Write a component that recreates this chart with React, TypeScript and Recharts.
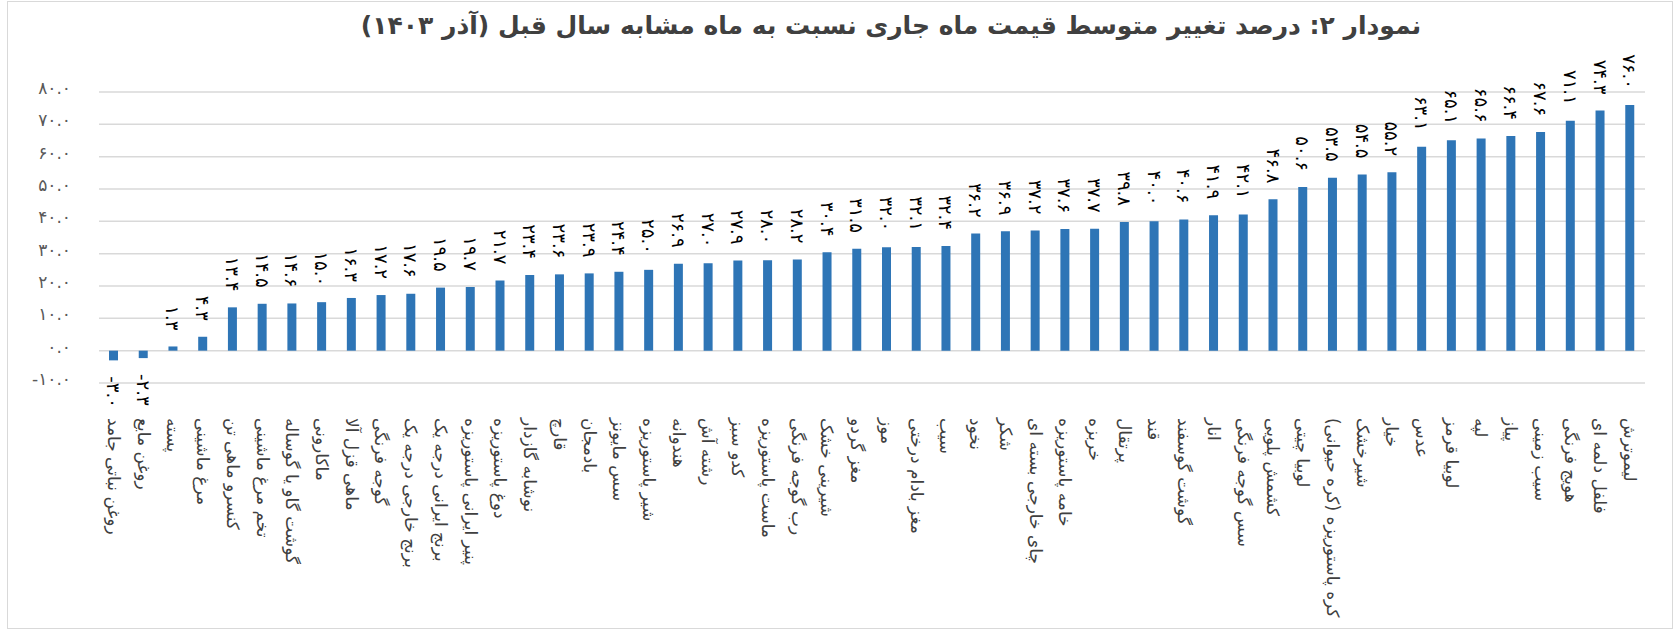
import React from 'react';
import { BarChart, Bar, XAxis, YAxis, CartesianGrid, LabelList } from 'recharts';

const CATEGORIES = [
  'روغن نباتی جامد', 'روغن مایع', 'پسته', 'مرغ ماشینی', 'کنسرو ماهی تن', 'تخم مرغ ماشینی',
  'گوشت گاو یا گوساله', 'ماکارونی', 'ماهی قزل آلا', 'گوجه فرنگی', 'برنج خارجی درجه یک',
  'برنج ایرانی درجه یک', 'پنیر ایرانی پاستوریزه', 'دوغ پاستوریزه', 'نوشابه گازدار', 'قارچ',
  'بادمجان', 'سس مایونز', 'شیر پاستوریزه', 'هندوانه', 'رشته آش', 'کدو سبز', 'ماست پاستوریزه',
  'رب گوجه فرنگی', 'شیرینی خشک', 'مغز گردو', 'موز', 'مغز بادام درختی', 'سیب', 'نخود', 'شکر',
  'چای خارجی بسته ای', 'خامه پاستوریزه', 'خربزه', 'پرتقال', 'قند', 'گوشت گوسفند', 'انار',
  'سس گوجه فرنگی', 'کشمش پلویی', 'لوبیا چیتی', 'کره پاستوریزه (کره حیوانی)', 'شیرخشک', 'خیار',
  'عدس', 'لوبیا قرمز', 'لپه', 'پیاز', 'سیب زمینی', 'هویج فرنگی', 'فلفل دلمه ای', 'لیموترش',
];

const CHANGE = [
  -3.0, -2.3, 1.3, 4.3, 13.4, 14.5, 14.6, 15.0, 16.3, 17.2, 17.6, 19.5, 19.7, 21.7, 23.4, 23.6,
  23.9, 24.4, 25.0, 26.9, 27.0, 27.9, 28.0, 28.2, 30.4, 31.5, 32.0, 32.1, 32.4, 36.2, 36.9, 37.2,
  37.6, 37.7, 39.8, 40.0, 40.6, 41.9, 42.1, 46.8, 50.6, 53.5, 54.5, 55.2, 63.1, 65.1, 65.6, 66.4,
  67.6, 71.1, 74.3, 76.0,
];

const Y_TICKS = [-10, 0, 10, 20, 30, 40, 50, 60, 70, 80];

const TITLE = 'نمودار ۲: درصد تغییر متوسط قیمت ماه جاری نسبت به ماه مشابه سال قبل (آذر ۱۴۰۳)';

const FONT = '"DejaVu Sans", sans-serif';

// western digits -> persian digits
const fa = (s: string) => s.replace(/[0-9]/g, (d) => '۰۱۲۳۴۵۶۷۸۹'[Number(d)]);

const data = CATEGORIES.map((name, i) => ({ name, value: CHANGE[i] }));

const YTick = (props: any) => {
  const { y, payload } = props;
  return (
    <text x={71} y={y - 4} textAnchor="end" dominantBaseline="central" fill="#595959" fontSize={17} fontFamily={FONT}>
      {fa(payload.value.toFixed(1))}
    </text>
  );
};

const XTick = (props: any) => {
  const { x, payload } = props;
  return (
    <text
      x={x}
      y={418}
      transform={`rotate(90, ${x}, 418)`}
      textAnchor="start"
      dominantBaseline="central"
      fill="#404040"
      fontSize={17}
      fontFamily={FONT}
    >
      {payload.value}
    </text>
  );
};

const ValueLabel = (props: any) => {
  const { x, y, width, height, value } = props;
  const cx = x + width / 2;
  const top = Math.min(y, y + height);
  const bottom = Math.max(y, y + height);
  const neg = value < 0;
  const ly = neg ? bottom + 16 : top - 16;
  return (
    <text
      x={cx}
      y={ly}
      transform={`rotate(90, ${cx}, ${ly})`}
      textAnchor={neg ? 'start' : 'end'}
      dominantBaseline="central"
      direction="ltr"
      fill="#000"
      fontSize={18}
      fontFamily={FONT}
    >
      {fa(value.toFixed(1))}
    </text>
  );
};

export default function App() {
  return (
    <div style={{ position: 'absolute', left: 0, top: 0, width: 1677, height: 631, background: '#fff' }}>
      <div
        style={{
          position: 'absolute',
          left: 7,
          top: 1,
          width: 1664,
          height: 626,
          border: '1px solid #d9d9d9',
        }}
      />
      <div
        style={{
          position: 'absolute',
          left: 0,
          top: 11,
          width: 1782,
          textAlign: 'center',
          direction: 'rtl',
          fontFamily: FONT,
          fontWeight: 'bold',
          fontSize: 25,
          color: '#404040',
        }}
      >
        {TITLE}
      </div>
      <div style={{ position: 'absolute', left: 0, top: 0 }}>
        <BarChart width={1677} height={631} data={data} margin={{ top: 92, right: 32, left: 0, bottom: 18 }}>
          <CartesianGrid vertical={false} stroke="#d9d9d9" strokeWidth={1.5} />
          <XAxis dataKey="name" height={230} axisLine={false} tickLine={false} interval={0} tick={<XTick />} />
          <YAxis
            width={99}
            domain={[-10, 80]}
            ticks={Y_TICKS}
            axisLine={false}
            tickLine={false}
            tick={<YTick />}
          />
          <Bar dataKey="value" fill="#2E75B6" barSize={9} isAnimationActive={false}>
            <LabelList dataKey="value" content={<ValueLabel />} />
          </Bar>
        </BarChart>
      </div>
    </div>
  );
}
